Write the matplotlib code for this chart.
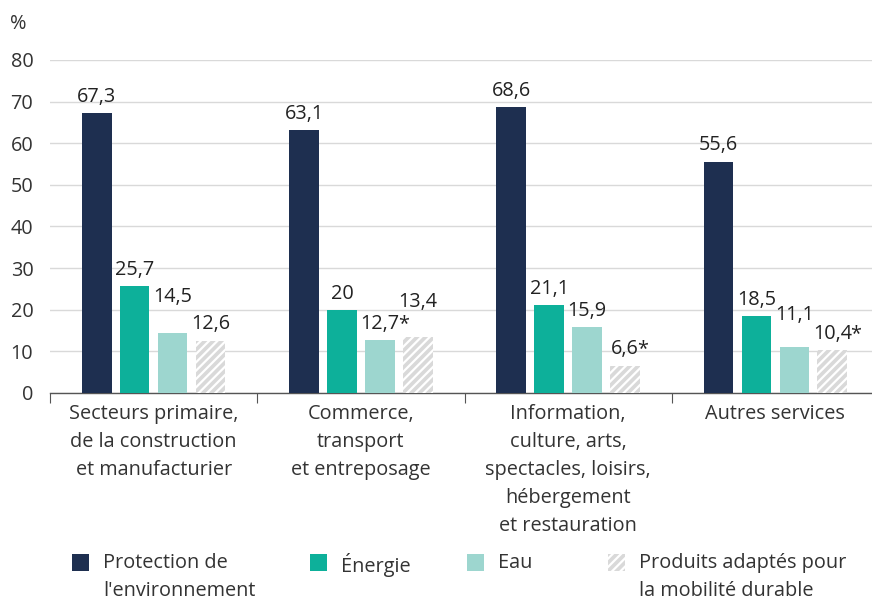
import matplotlib.pyplot as plt
import numpy as np
from matplotlib.patches import Rectangle

plt.rcParams['font.family'] = ['Open Sans', 'DejaVu Sans']
plt.rcParams['hatch.color'] = 'white'
plt.rcParams['hatch.linewidth'] = 1.6

categories = ['Secteurs primaire,\nde la construction\net manufacturier',
              'Commerce,\ntransport\net entreposage',
              'Information,\nculture, arts,\nspectacles, loisirs,\nhébergement\net restauration',
              'Autres services']
series_names = ["Protection de\nl'environnement", 'Énergie', 'Eau',
                'Produits adaptés pour\nla mobilité durable']
protection = [67.3, 63.1, 68.6, 55.6]
energie = [25.7, 20, 21.1, 18.5]
eau = [14.5, 12.7, 15.9, 11.1]
mobilite = [12.6, 13.4, 6.6, 10.4]
labels = [['67,3', '63,1', '68,6', '55,6'],
          ['25,7', '20', '21,1', '18,5'],
          ['14,5', '12,7*', '15,9', '11,1'],
          ['12,6', '13,4', '6,6*', '10,4*']]
colors = ['#1e2f50', '#0db09a', '#9dd6cf', '#d9d9d9']
hatches = [None, None, None, '////']
fs = 14.3
txt = '#222222'
# labels lifted higher in the original to keep clear of their neighbours
# (series index, group index) -> offset in points
raised = {(2, 0): 22, (3, 1): 22, (2, 3): 19.5}

fig = plt.figure(figsize=(8.72, 6.01), dpi=100)
ax = fig.add_axes([50 / 872, 1 - 393 / 601, 829 / 872, 333 / 601])
renderer = fig.canvas.get_renderer()


def text_width_pt(s):
    tmp = fig.text(0, 0, s, fontsize=fs)
    w = tmp.get_window_extent(renderer).width
    tmp.remove()
    return w * 72 / fig.dpi


x = np.arange(len(categories))
width = 0.143
pitch = 0.183
offsets = (np.arange(4) - 1.5) * pitch
for i, vals in enumerate([protection, energie, eau, mobilite]):
    bars = ax.bar(x + offsets[i], vals, width, color=colors[i], hatch=hatches[i],
                  linewidth=0, zorder=3)
    for j, (b, lab) in enumerate(zip(bars, labels[i])):
        num = lab.rstrip('*')
        dy = raised.get((i, j), 8)
        xy = (b.get_x() + b.get_width() / 2, b.get_height())
        ax.annotate(num, xy, xytext=(0, dy), textcoords='offset points',
                    ha='center', va='baseline', fontsize=fs, color=txt)
        if lab.endswith('*'):
            # the asterisk hangs to the right of the centred number
            w = text_width_pt(num)
            ax.annotate('*', xy, xytext=(w / 2 - 1.2, dy), textcoords='offset points',
                        ha='left', va='baseline', fontsize=fs, color=txt)

ax.set_xlim(-0.5, 3.5)
ax.set_ylim(0, 80)
ax.set_yticks(range(0, 81, 10))
ax.yaxis.grid(True, color='#d9d9d9', linewidth=1, zorder=0)
ax.tick_params(axis='y', length=0, labelsize=fs, labelcolor='#333333', pad=12)
for s in ['top', 'right', 'left']:
    ax.spines[s].set_visible(False)
ax.spines['bottom'].set_color('#555555')
ax.spines['bottom'].set_linewidth(1)

ax.set_xticks(np.arange(-0.5, 3.5, 1))
ax.set_xticklabels([])
ax.tick_params(axis='x', length=7, color='#555555', direction='out')
for xi, cat in zip(x, categories):
    ax.text(xi, -2.6, cat, ha='center', va='top', fontsize=fs, color='#333333',
            linespacing=1.53)

fig.text(10 / 872, 1 - 24 / 601, '%', fontsize=fs, color='#333333', va='center')

# legend drawn by hand so squares line up with the first text line
sq_x = [72, 310, 467, 608]
for i in range(4):
    fig.patches.append(Rectangle((sq_x[i] / 872, 1 - 571 / 601), 17 / 872, 17 / 601,
                                 transform=fig.transFigure, facecolor=colors[i],
                                 hatch=hatches[i], linewidth=0))
    fig.text((sq_x[i] + 31) / 872, 1 - 553 / 601, series_names[i], fontsize=fs,
             color='#333333', va='top', ha='left', linespacing=1.5)

fig.savefig('out.png', dpi=100)
